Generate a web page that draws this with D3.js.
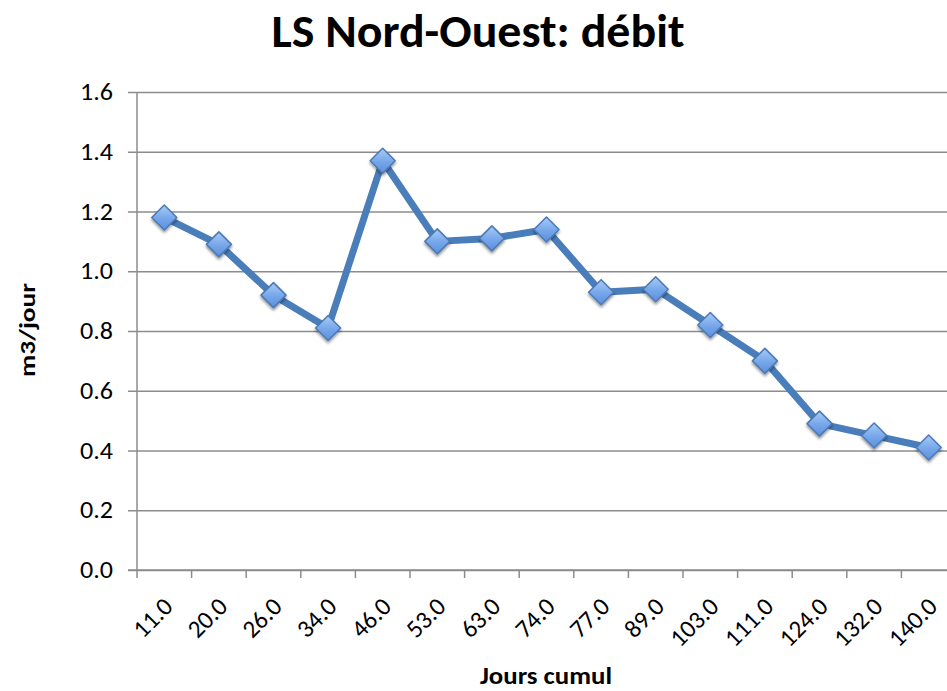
<!DOCTYPE html>
<html>
<head>
<meta charset="utf-8">
<script src="https://cdn.jsdelivr.net/npm/d3@7"></script>
<style>
  body { margin: 0; background: #fff; }
  svg { display: block; }
  svg text { font-family: Carlito, Lato, "Open Sans", sans-serif; }
</style>
</head>
<body>
<div id="chart"></div>
<script>
// Data
const categories = ['11.0', '20.0', '26.0', '34.0', '46.0', '53.0', '63.0', '74.0',
                    '77.0', '89.0', '103.0', '111.0', '124.0', '132.0', '140.0'];
const debit = [1.18, 1.09, 0.92, 0.81, 1.37, 1.10, 1.11, 1.14,
               0.93, 0.94, 0.82, 0.70, 0.49, 0.45, 0.41];
const yTicks = [0, 0.2, 0.4, 0.6, 0.8, 1.0, 1.2, 1.4, 1.6];

const width = 947, height = 691;
const plot = { left: 137, right: 956, top: 92, bottom: 570 };

const svg = d3.select('#chart').append('svg')
    .attr('width', width)
    .attr('height', height);

const defs = svg.append('defs');
const grad = defs.append('linearGradient')
    .attr('id', 'mk').attr('x1', 0).attr('y1', 0).attr('x2', 0).attr('y2', 1);
grad.append('stop').attr('offset', '0%').attr('stop-color', '#a8cbf6');
grad.append('stop').attr('offset', '55%').attr('stop-color', '#75a6ea');
grad.append('stop').attr('offset', '100%').attr('stop-color', '#5d8fdc');
const shadow = defs.append('filter').attr('id', 'shadow')
    .attr('x', '-50%').attr('y', '-50%').attr('width', '200%').attr('height', '200%');
shadow.append('feDropShadow')
    .attr('dx', 0).attr('dy', 2).attr('stdDeviation', 1.6)
    .attr('flood-color', '#000').attr('flood-opacity', 0.45);

const x = d3.scaleBand().domain(categories).range([plot.left, plot.right]).padding(0);
const y = d3.scaleLinear().domain([0, 1.6]).range([plot.bottom, plot.top]);

// Title
svg.append('text')
    .attr('x', 478).attr('y', 47)
    .attr('text-anchor', 'middle')
    .attr('font-size', 46).attr('font-weight', 'bold')
    .attr('textLength', 413).attr('lengthAdjust', 'spacingAndGlyphs')
    .attr('fill', '#000')
    .text('LS Nord-Ouest: débit');

// Gridlines + y axis
const yAxis = d3.axisLeft(y)
    .tickValues(yTicks)
    .tickFormat(d3.format('.1f'))
    .tickSize(-(width - plot.left))
    .tickPadding(24);
const gy = svg.append('g')
    .attr('transform', `translate(${plot.left},0)`)
    .call(yAxis)
    .attr('font-family', null);
gy.select('.domain').remove();
gy.selectAll('.tick line')
    .attr('x1', -9)
    .attr('stroke', '#8c8c8c').attr('stroke-width', 1.5);
gy.selectAll('.tick text')
    .attr('font-size', 24).attr('fill', '#000')
    .attr('textLength', 33).attr('lengthAdjust', 'spacingAndGlyphs');

svg.append('line')
    .attr('x1', plot.left).attr('x2', plot.left)
    .attr('y1', plot.top).attr('y2', plot.bottom)
    .attr('stroke', '#8c8c8c').attr('stroke-width', 1.5);

// X axis
const xAxis = d3.axisBottom(x).tickSize(0).tickPadding(0);
const gx = svg.append('g')
    .attr('transform', `translate(0,${plot.bottom})`)
    .call(xAxis)
    .attr('font-family', null);
gx.select('.domain').remove();
gx.selectAll('.tick text')
    .attr('font-size', 25).attr('fill', '#000')
    .attr('text-anchor', 'end')
    .attr('dy', 0)
    .attr('transform', 'translate(10,38) rotate(-45)');

svg.append('line')
    .attr('x1', plot.left - 9).attr('x2', width)
    .attr('y1', plot.bottom).attr('y2', plot.bottom)
    .attr('stroke', '#8c8c8c').attr('stroke-width', 1.5);

// tick marks at band boundaries
const boundaries = categories.map(c => x(c)).concat([x.range()[1]]);
svg.append('g').selectAll('line')
    .data(boundaries)
    .enter().append('line')
    .attr('x1', d => d).attr('x2', d => d)
    .attr('y1', plot.bottom).attr('y2', plot.bottom + 8)
    .attr('stroke', '#8c8c8c').attr('stroke-width', 1.5);

// Axis titles
svg.append('text')
    .attr('transform', 'translate(35,330) rotate(-90)')
    .attr('text-anchor', 'middle')
    .attr('font-size', 23).attr('font-weight', 'bold')
    .attr('textLength', 94).attr('lengthAdjust', 'spacingAndGlyphs')
    .text('m3/jour');

svg.append('text')
    .attr('x', 546).attr('y', 684)
    .attr('text-anchor', 'middle')
    .attr('font-size', 24).attr('font-weight', 'bold')
    .attr('textLength', 132).attr('lengthAdjust', 'spacingAndGlyphs')
    .text('Jours cumul');

// Line
const line = d3.line()
    .x((d, i) => x(categories[i]) + x.bandwidth() / 2)
    .y(d => y(d));

svg.append('path')
    .datum(debit)
    .attr('d', line)
    .attr('fill', 'none')
    .attr('stroke', '#4a7ebb')
    .attr('stroke-width', 7)
    .attr('stroke-linejoin', 'round');

// Diamond markers
const r = 12.5;
svg.append('g').selectAll('path')
    .data(debit)
    .enter().append('path')
    .attr('d', `M0,${-r}L${r},0L0,${r}L${-r},0Z`)
    .attr('transform', (d, i) => `translate(${x(categories[i]) + x.bandwidth() / 2},${y(d)})`)
    .attr('fill', 'url(#mk)')
    .attr('stroke', '#4c7ab3')
    .attr('stroke-width', 1.5)
    .attr('stroke-linejoin', 'round')
    .attr('filter', 'url(#shadow)');
</script>
</body>
</html>
